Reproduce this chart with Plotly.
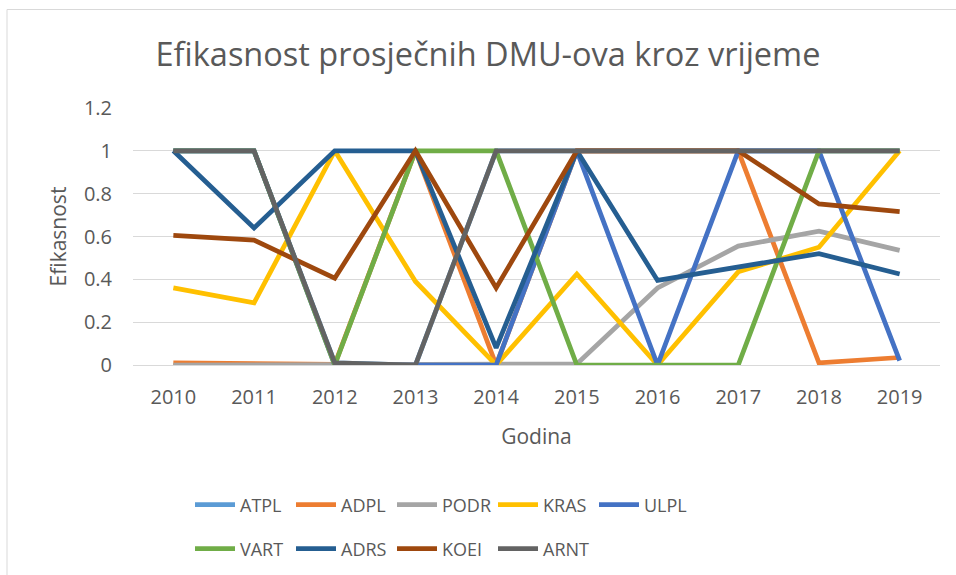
import plotly.graph_objects as go

years = ["2010", "2011", "2012", "2013", "2014", "2015", "2016", "2017", "2018", "2019"]

ATPL = [1, 1, 0.01, 0, 1, 1, 1, 1, 1, 1]
ADPL = [0.01, 0.005, 0.003, 1, 0, 1, 1, 1, 0.01, 0.035]
PODR = [0, 0, 0, 0, 0, 0.005, 0.36, 0.555, 0.625, 0.535]
KRAS = [0.36, 0.29, 1, 0.39, 0, 0.425, 0, 0.435, 0.55, 1]
ULPL = [1, 1, 0, 0, 0, 1, 0, 1, 1, 0.02]
VART = [1, 1, 0, 1, 1, 0, 0, 0, 1, 1]
ADRS = [1, 0.64, 1, 1, 0.08, 1, 0.395, 0.46, 0.52, 0.425]
KOEI = [0.605, 0.583, 0.405, 1, 0.36, 1, 1, 1, 0.752, 0.716]
ARNT = [1, 1, 0.01, 0, 1, 1, 1, 1, 1, 1]

series_names = ["ATPL", "ADPL", "PODR", "KRAS", "ULPL", "VART", "ADRS", "KOEI", "ARNT"]
series_values = [ATPL, ADPL, PODR, KRAS, ULPL, VART, ADRS, KOEI, ARNT]
colors = ["#5B9BD5", "#ED7D31", "#A5A5A5", "#FFC000", "#4472C4",
          "#70AD47", "#255E91", "#9E480E", "#636363"]

FONT = "Open Sans"
TXT = "#595959"

fig = go.Figure()
for i, (name, vals, col) in enumerate(zip(series_names, series_values, colors)):
    fig.add_trace(go.Scatter(
        x=years, y=vals, name=name, mode="lines",
        line=dict(color=col, width=4.75),
        legend="legend" if i < 5 else "legend2",
    ))

W, H = 956, 575
ml, mr, mt, mb = 133, 16, 108, 210
pw = W - ml - mr
ph = H - mt - mb

def px_x(p):
    return (p - ml) / pw

def px_y(p):
    return (H - mb - p) / ph

leg_common = dict(orientation="h", xref="container", yref="container",
                  xanchor="left", yanchor="middle", entrywidth=46,
                  font=dict(size=18, color=TXT, family=FONT), itemwidth=40,
                  bgcolor="rgba(0,0,0,0)")

fig.update_layout(
    width=W, height=H,
    margin=dict(l=ml, r=mr, t=mt, b=mb, autoexpand=False),
    paper_bgcolor="white", plot_bgcolor="white",
    font=dict(family=FONT, color=TXT, size=18),
    title=dict(text="Efikasnost prosječnih DMU-ova kroz vrijeme",
               x=488 / W, xanchor="center", y=1 - 55 / H, yanchor="middle",
               xref="container", yref="container",
               font=dict(size=32.5, color=TXT, family=FONT)),
    xaxis=dict(type="category", range=[-0.5, 9.5], showgrid=False,
               showline=False, zeroline=False, ticks="",
               ticklabelstandoff=18, tickfont=dict(size=20, color=TXT),
               title=dict(text="Godina", font=dict(size=21, color=TXT), standoff=20)),
    yaxis=dict(range=[0, 1.2], showgrid=True,
               gridcolor="#D9D9D9", gridwidth=1, zeroline=True,
               zerolinecolor="#D9D9D9", zerolinewidth=1, showline=False,
               ticks="", ticklabelstandoff=20,
               tickvals=[0, 0.2, 0.4, 0.6, 0.8, 1, 1.2],
               ticktext=["0", "0.2", "0.4", "0.6", "0.8", "1", "1.2"],
               tickfont=dict(size=20, color=TXT),
               title=dict(text="Efikasnost", font=dict(size=21, color=TXT), standoff=11)),
    legend=dict(x=190 / W, y=1 - 505 / H, **leg_common),
    legend2=dict(x=190 / W, y=1 - 549 / H, **leg_common),
    shapes=[dict(type="rect", xref="paper", yref="paper",
                 x0=px_x(7), x1=px_x(970), y0=px_y(590), y1=px_y(9.5),
                 line=dict(color="#D9D9D9", width=1), fillcolor="rgba(0,0,0,0)",
                 layer="below")],
)

fig.write_html("out.html", post_script="document.body.style.margin='0px';",
               config={"displayModeBar": False})
